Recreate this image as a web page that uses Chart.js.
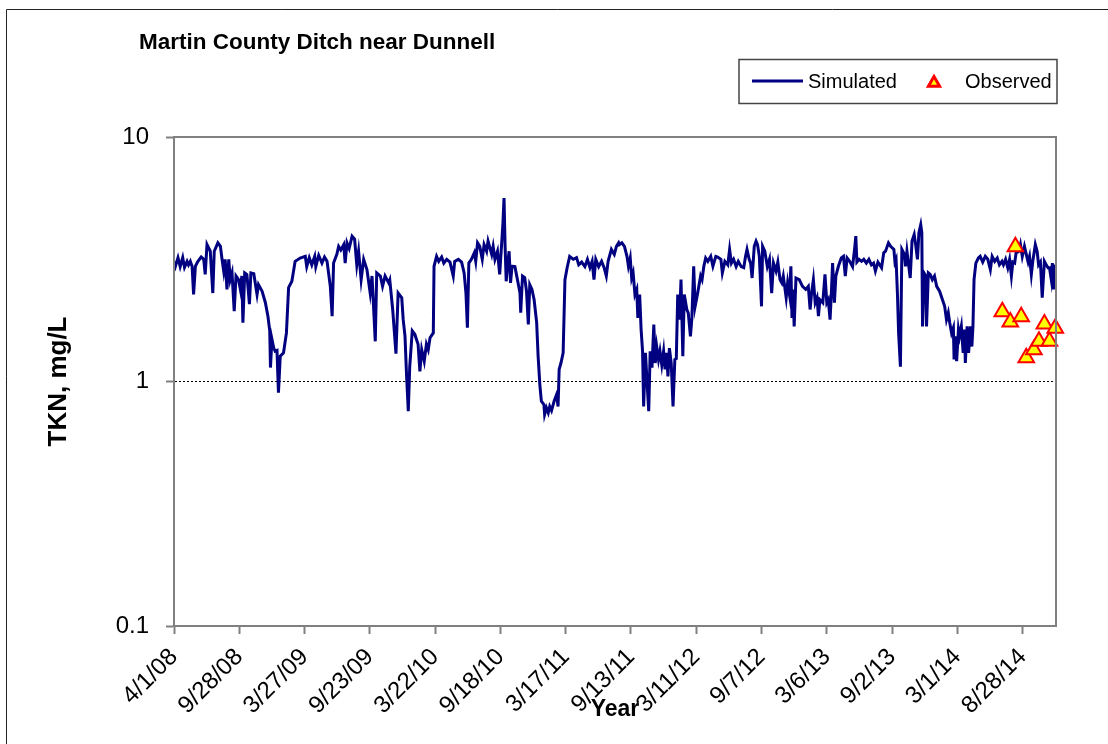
<!DOCTYPE html>
<html>
<head>
<meta charset="utf-8">
<title>Martin County Ditch near Dunnell</title>
<script src="https://cdn.jsdelivr.net/npm/chart.js@4.4.0/dist/chart.umd.min.js"></script>
<style>
  html, body { margin: 0; padding: 0; background: #fff; }
  #wrap { width: 1108px; height: 744px; }
</style>
</head>
<body>
<div id="wrap"><canvas id="tknChart" width="1108" height="744"></canvas></div>
<script>
// days since 4/1/08 and TKN (mg/L)
const simDays = [
  0, 4, 11, 17, 24, 29, 36, 40, 45, 50, 54, 59, 66, 75, 82, 86, 91, 100, 107, 111,
  121, 128, 132, 137, 141, 146, 151, 155, 160, 166, 171, 178, 183, 187, 190, 195, 201, 208, 212, 220,
  229, 233, 243, 252, 259, 264, 266, 270, 275, 279, 284, 288, 293, 302, 310, 316, 325, 334, 348, 362,
  366, 373, 380, 388, 391, 399, 408, 415, 422, 431, 436, 440, 449, 454, 460, 468, 472, 477, 483, 491,
  498, 504, 509, 516, 523, 532, 541, 546, 555, 559, 569, 575, 582, 592, 595, 603, 612, 618, 628, 632,
  637, 641, 646, 650, 657, 664, 673, 678, 683, 690, 696, 701, 706, 715, 717, 724, 730, 738, 744, 752,
  761, 770, 774, 784, 793, 800, 805, 809, 813, 820, 828, 832, 837, 843, 850, 855, 862, 866, 876, 880,
  885, 892, 898, 903, 907, 910, 913, 916, 920, 924, 928, 932, 940, 947, 954, 956, 961, 967, 972, 977,
  981, 987, 993, 1000, 1004, 1009, 1013, 1020, 1022, 1027, 1032, 1036, 1041, 1048, 1055, 1059, 1062, 1067, 1073, 1078,
  1084, 1091, 1101, 1110, 1116, 1124, 1133, 1140, 1147, 1153, 1158, 1163, 1171, 1179, 1186, 1192, 1197, 1206, 1214, 1220,
  1226, 1228, 1235, 1242, 1249, 1253, 1258, 1262, 1266, 1271, 1276, 1279, 1284, 1288, 1292, 1295, 1300, 1304, 1309, 1313,
  1318, 1323, 1327, 1331, 1336, 1340, 1345, 1350, 1354, 1358, 1362, 1366, 1371, 1376, 1381, 1385, 1389, 1394, 1398, 1403,
  1407, 1414, 1418, 1424, 1428, 1433, 1437, 1444, 1452, 1456, 1461, 1466, 1472, 1480, 1486, 1494, 1499, 1508, 1512, 1519,
  1527, 1532, 1537, 1543, 1550, 1556, 1564, 1571, 1576, 1580, 1586, 1590, 1594, 1600, 1605, 1609, 1614, 1620, 1623, 1629,
  1636, 1642, 1648, 1653, 1660, 1665, 1671, 1676, 1680, 1688, 1692, 1697, 1701, 1704, 1707, 1710, 1715, 1724, 1733, 1742,
  1749, 1754, 1758, 1763, 1768, 1773, 1777, 1781, 1789, 1795, 1800, 1804, 1809, 1812, 1816, 1821, 1825, 1832, 1840, 1846,
  1851, 1856, 1863, 1871, 1877, 1880, 1883, 1889, 1896, 1902, 1909, 1916, 1923, 1929, 1934, 1941, 1951, 1957, 1962, 1970,
  1976, 1985, 1988, 1991, 1995, 1998, 2003, 2007, 2014, 2017, 2021, 2030, 2035, 2041, 2045, 2050, 2054, 2059, 2062, 2064,
  2068, 2073, 2075, 2080, 2085, 2091, 2097, 2103, 2111, 2119, 2125, 2130, 2135, 2139, 2144, 2149, 2151, 2155, 2158, 2163,
  2166, 2171, 2176, 2180, 2182, 2187, 2191, 2196, 2200, 2203, 2206, 2211, 2218, 2223, 2230, 2237, 2244, 2251, 2256, 2263,
  2270, 2276, 2283, 2287, 2293, 2299, 2304, 2309, 2313, 2318, 2322, 2330, 2334, 2339, 2345, 2350, 2355, 2359, 2364, 2368,
  2375, 2380, 2384, 2389, 2394, 2400, 2405, 2410, 2414, 2419, 2422, 2425, 2429, 2432
];
const simValues = [
  3.1, 2.96, 3.21, 2.95, 3.21, 2.93, 3.1, 3.0, 3.1, 2.95, 2.27, 2.96, 3.1, 3.23, 3.16, 2.74, 3.63, 3.41, 2.3, 3.41,
  3.69, 3.57, 3.2, 2.83, 3.16, 2.38, 3.16, 2.61, 2.78, 1.94, 2.7, 2.61, 2.38, 2.7, 1.74, 2.78, 2.74, 2.07, 2.78, 2.76,
  2.27, 2.49, 2.34, 2.1, 1.85, 1.61, 1.14, 1.49, 1.37, 1.33, 1.34, 0.9, 1.27, 1.31, 1.58, 2.42, 2.57, 3.1, 3.2, 3.25,
  2.95, 3.21, 3.0, 3.25, 2.95, 3.28, 3.05, 3.23, 3.1, 2.45, 1.85, 3.05, 3.31, 3.57, 3.45, 3.63, 3.05, 3.69, 3.5, 3.93,
  3.82, 3.0, 3.41, 2.61, 3.16, 2.87, 2.3, 2.7, 1.46, 2.78, 2.7, 2.45, 2.7, 2.53, 2.6, 1.97, 1.3, 2.3, 2.2, 1.79,
  1.53, 1.08, 0.756, 1.15, 1.61, 1.56, 1.42, 1.1, 1.35, 1.21, 1.42, 1.35, 1.51, 1.58, 2.96, 3.25, 3.1, 3.23, 3.05, 3.16,
  3.08, 2.7, 3.1, 3.16, 3.08, 2.78, 2.3, 1.66, 3.05, 3.16, 3.36, 3.1, 3.69, 3.57, 3.16, 3.63, 3.41, 3.75, 3.31, 3.57,
  3.16, 3.41, 2.74, 3.57, 4.45, 5.63, 3.57, 2.57, 3.05, 3.41, 2.53, 2.96, 2.95, 2.61, 2.3, 1.91, 2.7, 2.66, 2.34, 1.71,
  2.49, 2.38, 2.16, 1.74, 1.27, 0.96, 0.83, 0.805, 0.733, 0.78, 0.745, 0.79, 0.76, 0.83, 0.885, 0.79, 1.12, 1.19, 1.31, 2.61,
  2.92, 3.25, 3.16, 3.21, 3.0, 3.08, 2.95, 3.16, 2.92, 3.1, 2.61, 3.16, 2.95, 3.1, 2.92, 2.7, 3.1, 3.47, 3.31, 3.57,
  3.69, 3.63, 3.69, 3.57, 3.25, 2.96, 3.2, 2.65, 2.78, 2.27, 2.38, 1.82, 2.27, 1.63, 1.33, 0.79, 1.31, 1.02, 0.756, 1.33,
  1.14, 1.71, 1.19, 1.39, 1.23, 1.33, 1.17, 1.33, 1.12, 1.31, 1.05, 1.37, 1.19, 0.79, 1.23, 1.24, 2.27, 1.79, 2.61, 1.27,
  2.27, 1.97, 1.91, 1.53, 1.82, 2.96, 2.03, 2.3, 2.7, 2.61, 2.96, 3.2, 3.1, 3.25, 2.96, 3.25, 3.23, 3.16, 2.78, 3.1,
  3.0, 3.47, 3.05, 3.16, 2.95, 3.1, 2.95, 2.92, 3.25, 3.47, 3.16, 3.05, 2.65, 3.57, 3.75, 3.63, 3.25, 2.03, 3.57, 3.41,
  2.95, 3.16, 2.3, 3.05, 2.83, 3.08, 2.61, 2.53, 2.7, 2.2, 2.53, 2.27, 2.96, 1.82, 2.38, 1.68, 2.65, 2.61, 2.45, 2.38,
  2.45, 1.97, 2.3, 2.61, 2.1, 2.2, 1.85, 2.16, 2.1, 2.74, 2.1, 2.16, 1.79, 2.2, 3.05, 2.1, 2.7, 2.96, 3.2, 3.25,
  2.7, 3.2, 3.1, 2.95, 3.52, 3.93, 3.08, 3.16, 3.1, 3.16, 3.05, 3.16, 3.0, 3.05, 2.83, 3.08, 2.92, 3.36, 3.41, 3.69,
  3.57, 3.47, 3.08, 3.16, 2.24, 1.58, 1.15, 3.47, 3.31, 2.96, 3.41, 2.65, 3.75, 3.99, 3.63, 3.16, 4.06, 4.38, 4.06, 1.68,
  2.78, 2.7, 1.68, 2.78, 2.74, 2.61, 2.7, 2.45, 2.34, 2.16, 2.03, 1.79, 1.91, 1.74, 1.58, 1.66, 1.23, 1.53, 1.21, 1.63,
  1.53, 1.68, 1.31, 1.63, 1.19, 1.68, 1.31, 1.68, 1.39, 1.68, 2.61, 3.05, 3.2, 3.25, 3.08, 3.25, 3.16, 2.87, 3.25, 3.1,
  3.2, 3.0, 3.1, 3.0, 3.16, 2.92, 3.16, 2.7, 3.08, 3.05, 3.36, 3.41, 3.63, 3.25, 3.57, 3.31, 3.08, 3.25, 2.74, 3.1,
  3.63, 3.41, 3.0, 3.08, 2.2, 3.1, 3.0, 2.92, 2.92, 2.61, 3.05, 2.38, 2.96, 2.95
];
const obsDays = [2284, 2306, 2320, 2336, 2350, 2371, 2385, 2400, 2414, 2430];
const obsValues = [1.93, 1.75, 3.56, 1.84, 1.25, 1.35, 1.46, 1.72, 1.46, 1.65];

const xTickDays = [0, 180, 360, 540, 720, 900, 1080, 1260, 1440, 1620, 1800, 1980, 2160, 2340];
const xTickLabels = ['4/1/08', '9/28/08', '3/27/09', '9/23/09', '3/22/10', '9/18/10', '3/17/11',
  '9/13/11', '3/11/12', '9/7/12', '3/6/13', '9/2/13', '3/1/14', '8/28/14'];
const yTickValues = [0.1, 1, 10];
const yTickLabels = ['0.1', '1', '10'];

const seriesNames = ['Simulated', 'Observed'];
const chartTitle = 'Martin County Ditch near Dunnell';

const FONT = 'Arial, "Liberation Sans", sans-serif';

// title, legend box, plot frame and page border
const decorations = {
  id: 'decorations',
  afterDraw(chart) {
    const ctx = chart.ctx;
    const a = chart.chartArea;
    ctx.save();

    ctx.strokeStyle = '#808080';
    ctx.lineWidth = 2;
    ctx.strokeRect(a.left, a.top, a.right - a.left, a.bottom - a.top);

    ctx.strokeStyle = '#222';
    ctx.lineWidth = 1;
    ctx.beginPath();
    ctx.moveTo(6.5, 744);
    ctx.lineTo(6.5, 9.5);
    ctx.lineTo(1108, 9.5);
    ctx.stroke();

    ctx.fillStyle = '#000';
    ctx.textBaseline = 'middle';
    ctx.font = 'bold 22.5px ' + FONT;
    ctx.fillText(chartTitle, 139, 43);

    // legend
    ctx.strokeStyle = '#444';
    ctx.lineWidth = 1.5;
    ctx.strokeRect(739, 59.5, 318, 44);
    ctx.strokeStyle = '#000080';
    ctx.lineWidth = 3;
    ctx.beginPath();
    ctx.moveTo(752, 81);
    ctx.lineTo(803, 81);
    ctx.stroke();
    ctx.font = '20px ' + FONT;
    ctx.fillStyle = '#000';
    ctx.fillText(seriesNames[0], 808, 82);
    ctx.fillStyle = '#FFFF00';
    ctx.strokeStyle = '#FF0000';
    Chart.helpers.drawPoint(ctx, { pointStyle: 'triangle', radius: 6.5, borderWidth: 2, rotation: 0 }, 934, 83);
    ctx.fillStyle = '#000';
    ctx.fillText(seriesNames[1], 965, 82);

    ctx.restore();
  }
};

new Chart(document.getElementById('tknChart').getContext('2d'), {
  type: 'scatter',
  data: {
    datasets: [
      {
        label: seriesNames[1],
        data: obsDays.map((d, i) => ({ x: d, y: obsValues[i] })),
        pointStyle: 'triangle',
        pointRadius: 9,
        pointBackgroundColor: '#FFFF00',
        pointBorderColor: '#FF0000',
        pointBorderWidth: 2,
        showLine: false,
        clip: false,
        order: 0
      },
      {
        label: seriesNames[0],
        data: simDays.map((d, i) => ({ x: d, y: simValues[i] })),
        showLine: true,
        borderColor: '#000080',
        borderWidth: 3,
        pointRadius: 0,
        tension: 0,
        fill: false,
        order: 1
      }
    ]
  },
  options: {
    responsive: false,
    devicePixelRatio: 1,
    animation: false,
    layout: { padding: { top: 137, right: 52, bottom: 0, left: 0 } },
    plugins: {
      legend: { display: false },
      tooltip: { enabled: false },
      title: { display: false }
    },
    scales: {
      x: {
        type: 'linear',
        min: 0,
        max: 2432,
        afterFit: scale => { scale.height = 118; },
        afterBuildTicks: scale => { scale.ticks = xTickDays.map(v => ({ value: v })); },
        ticks: {
          autoSkip: false,
          minRotation: 45,
          maxRotation: 45,
          padding: 9,
          color: '#000',
          font: { family: FONT, size: 24 },
          callback: value => {
            const i = xTickDays.indexOf(value);
            return i >= 0 ? xTickLabels[i] : '';
          }
        },
        grid: {
          drawOnChartArea: false,
          drawTicks: true,
          tickLength: 8,
          tickColor: '#808080',
          tickWidth: 2
        },
        border: { display: true, color: '#808080', width: 2 },
        title: {
          display: true,
          text: 'Year',
          color: '#000',
          font: { family: FONT, size: 23, weight: 'bold' },
          padding: { top: 0, bottom: 21 }
        }
      },
      y: {
        type: 'logarithmic',
        min: 0.1,
        max: 10,
        afterFit: scale => { scale.width = 174; },
        afterBuildTicks: scale => { scale.ticks = yTickValues.map(v => ({ value: v })); },
        ticks: {
          padding: 17,
          color: '#000',
          font: { family: FONT, size: 24 },
          callback: (value, index) => yTickLabels[index]
        },
        grid: {
          drawOnChartArea: true,
          drawTicks: true,
          tickLength: 8,
          tickColor: '#808080',
          tickWidth: 2,
          lineWidth: 1,
          color: ctx => (ctx.tick && ctx.tick.value === 1 ? '#000' : 'rgba(0,0,0,0)')
        },
        border: { display: true, color: '#808080', width: 2, dash: [2, 2] },
        title: {
          display: true,
          text: 'TKN, mg/L',
          color: '#000',
          font: { family: FONT, size: 26, weight: 'bold' },
          padding: { top: 43, bottom: 0 }
        }
      }
    }
  },
  plugins: [decorations]
});
</script>
</body>
</html>
